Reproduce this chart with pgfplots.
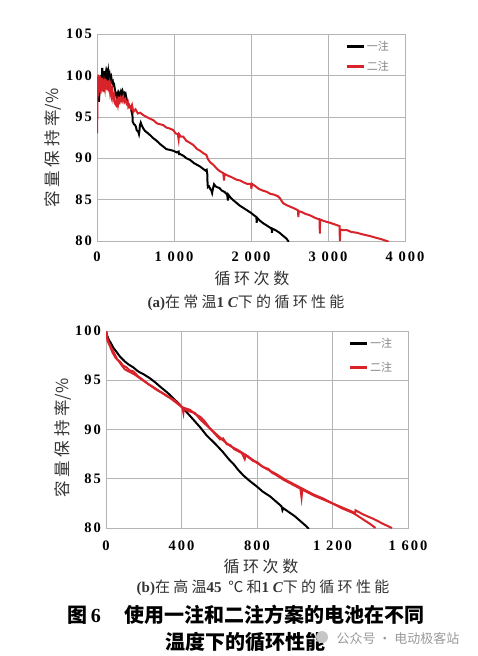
\documentclass[border=0pt]{standalone}
\usepackage{fontspec}
\usepackage{pgfplots}
\pgfplotsset{compat=1.18}
\setmainfont{Liberation Serif}
\newfontfamily\cjk{Noto Sans CJK SC}
\newfontfamily\cjks[LetterSpace=22]{Noto Sans CJK SC}
\newfontfamily\tickf[LetterSpace=14]{Liberation Serif}
\definecolor{myred}{HTML}{D8232A}
\definecolor{gridc}{HTML}{B4B4B4}
\definecolor{txtc}{HTML}{333333}
\pgfplotsset{
  common/.style={
    scale only axis,
    grid=major,
    major grid style={gridc, line width=0.6pt},
    axis line style={gridc, line width=0.6pt},
    tick style={draw=none},
    ticklabel style={font=\tickf\bfseries\fontsize{14.5}{14.5}\selectfont, text=black},
    yticklabel style={xshift=-1.5pt},
    legend cell align=left,
    legend image code/.code={\draw[#1, line width=2.6pt] (0pt,0pt) -- (17pt,0pt);},
    clip=true,
  }
}
\begin{document}
\begin{tikzpicture}[x=1pt,y=1pt]
\useasboundingbox (0,0) rectangle (478,-656);
% ---------- (a) ----------
\begin{axis}[common,
  at={(97pt,-241pt)}, anchor=south west,
  width=308pt, height=207pt,
  xmin=0, xmax=4000, ymin=80, ymax=105,
  xtick={0,1000,2000,3000,4000},
  xticklabels={0,1 000,2 000,3 000,4 000},
  ytick={80,85,90,95,100,105},
  yticklabels={80,85,90,95,100,105},
  xticklabel style={yshift=-7pt},
  legend style={at={(rel axis cs:0.955,0.975)}, anchor=north east, draw=none, fill=none,
     font=\cjk\fontsize{11}{12}\selectfont\color{gray}, row sep=5pt, inner sep=0pt, nodes={inner sep=2pt}},
]
\addplot[black, line width=2pt] coordinates {
(25,96.8)(30,97.6)(38,99.5)(45,98.3)(52,100.0)(60,99.0)(68,100.9)(74,100.2)(80,99.4)(88,100.5)(96,99.2)(104,99.6)(112,100.1)(120,99.3)(130,100.3)(140,99.8)(147,100.4)(155,99.7)(165,100.1)(175,99.5)(185,99.8)(195,99.2)(205,99.3)(212,98.8)(222,98.9)(234,98.2)(245,97.8)(255,97.3)(265,97.7)(275,97.3)(285,97.9)(299,97.6)(310,98.0)(320,97.6)(332,98.1)(342,97.8)(355,97.9)(365,97.3)(375,97.6)(394,96.7)(410,96.5)(429,96.2)(440,96.0)(450,95.6)(455,95.8)(460,95.4)(463,94.4)(470,94.3)(480,94.1)(494,94.0)(505,93.8)(515,93.4)(524,93.3)(535,93.2)(545,92.9)(550,93.2)(558,94.0)(568,94.3)(580,94.0)(600,93.6)(623,93.3)(650,93.1)(688,92.8)(720,92.5)(775,92.1)(820,91.7)(861,91.4)(900,91.1)(948,91.0)(990,90.9)(1035,90.7)(1060,90.8)(1065,90.5)(1080,90.5)(1121,90.3)(1160,90.0)(1208,89.8)(1260,89.4)(1300,89.2)(1338,89.0)(1380,88.7)(1410,88.5)(1424,88.6)(1432,88.1)(1436,86.9)(1440,86.5)(1455,86.6)(1470,86.3)(1485,86.1)(1495,85.8)(1505,86.3)(1520,86.85)(1540,86.6)(1560,86.5)(1590,86.4)(1620,86.1)(1660,85.9)(1690,85.6)(1700,84.9)(1705,85.6)(1730,85.3)(1760,85.0)(1800,84.7)(1850,84.3)(1900,84.0)(1950,83.7)(2000,83.4)(2040,83.1)(2070,82.9)(2074,82.2)(2078,82.8)(2110,82.5)(2150,82.2)(2200,81.9)(2250,81.6)(2268,81.5)(2272,81.0)(2276,81.5)(2320,81.3)(2370,81.0)(2420,80.6)(2460,80.3)(2490,79.9)
};
\addlegendentry{一注}
\addplot[myred, line width=2pt] coordinates {
(0,93.0)(3,94.5)(6,97.2)(10,99.8)(14,97.5)(18,100.1)(22,98.2)(28,99.6)(34,98.0)(40,99.9)(46,97.8)(52,99.3)(58,98.1)(64,99.7)(70,98.4)(78,99.5)(86,98.0)(94,99.0)(102,98.5)(110,99.6)(118,98.3)(126,99.2)(134,98.2)(142,99.4)(150,98.6)(160,99.0)(170,98.0)(180,98.6)(190,97.6)(200,98.1)(210,97.2)(222,97.6)(235,96.6)(248,96.4)(260,97.0)(272,96.4)(284,97.1)(296,96.8)(310,97.3)(325,96.9)(340,97.4)(355,96.8)(370,97.1)(385,96.6)(400,96.8)(407,96.2)(420,96.4)(440,96.0)(455,96.4)(472,95.6)(500,95.9)(530,95.4)(560,95.5)(602,95.2)(640,95.0)(680,94.8)(731,94.6)(780,94.2)(820,94.1)(861,94.0)(900,93.7)(940,93.6)(991,93.4)(1020,93.0)(1050,92.9)(1060,92.3)(1066,92.9)(1090,92.6)(1121,92.6)(1160,92.1)(1200,91.9)(1251,91.6)(1300,91.1)(1340,90.9)(1381,90.6)(1420,90.4)(1440,89.9)(1470,89.5)(1511,89.2)(1560,88.7)(1600,88.4)(1640,88.2)(1650,87.3)(1655,88.1)(1700,87.9)(1750,87.7)(1814,87.4)(1860,87.3)(1900,87.1)(1950,86.9)(2000,86.9)(2005,86.3)(2012,86.9)(2060,86.6)(2100,86.3)(2150,86.1)(2203,85.95)(2250,85.7)(2300,85.6)(2350,85.4)(2377,85.15)(2400,84.8)(2420,84.55)(2470,84.3)(2520,84.1)(2570,83.9)(2610,83.7)(2615,82.9)(2620,83.6)(2660,83.5)(2700,83.3)(2766,83.1)(2830,82.8)(2890,82.6)(2894,80.9)(2898,82.6)(2950,82.4)(3026,82.2)(3090,82.0)(3150,81.8)(3154,80.0)(3158,81.4)(3199,81.3)(3250,81.3)(3300,81.1)(3372,81.0)(3450,80.8)(3545,80.6)(3620,80.4)(3700,80.2)(3762,80.0)(3790,79.9)
};
\addlegendentry{二注}
\end{axis}
\node[rotate=90, font=\cjks\fontsize{16.5}{16.5}\selectfont, text=txtc] at (53,-148) {容量保持率\addfontfeature{LetterSpace=0}/\%};
\node[font=\cjks\fontsize{16}{16}\selectfont, text=txtc] at (252,-278) {循环次数};
\node[font=\cjks\fontsize{15}{15}\selectfont, text=txtc] at (246,-303) {{\rmfamily\bfseries (a)}在常温{\rmfamily\bfseries 1 \itshape C}下的循环性能};
% ---------- (b) ----------
\begin{axis}[common,
  at={(106pt,-528pt)}, anchor=south west,
  width=302pt, height=197pt,
  xmin=0, xmax=1600, ymin=80, ymax=100,
  xtick={0,400,800,1200,1600},
  xticklabels={0,400,800,1 200,1 600},
  ytick={80,85,90,95,100},
  yticklabels={80,85,90,95,100},
  xticklabel style={yshift=-9pt},
  legend style={at={(rel axis cs:0.955,0.975)}, anchor=north east, draw=none, fill=none,
     font=\cjk\fontsize{11}{12}\selectfont\color{gray}, row sep=9pt, inner sep=0pt, nodes={inner sep=2pt}},
]
\addplot[black, line width=2pt] coordinates {
(0,100)(5,99.6)(15,99.1)(25,98.8)(39,98.3)(55,97.9)(74,97.4)(100,96.9)(120,96.6)(145,96.3)(170,95.9)(200,95.6)(233,95.2)(260,94.8)(290,94.3)(322,93.8)(350,93.3)(392,92.5)(430,91.7)(463,91.0)(500,90.2)(533,89.4)(560,88.9)(586,88.4)(620,87.7)(650,87.0)(680,86.4)(700,85.9)(730,85.3)(760,84.8)(800,84.2)(830,83.7)(870,83.2)(900,82.7)(930,82.2)(935,81.8)(940,82.0)(970,81.6)(1000,81.2)(1030,80.7)(1060,80.2)(1075,79.9)
};
\addlegendentry{一注}
\addplot[myred, line width=2pt] coordinates {
(0,100)(5,99.4)(15,98.8)(25,98.4)(39,97.9)(50,97.5)(60,97.1)(74,96.9)(90,96.5)(110,96.3)(125,96.0)(145,95.9)(170,95.4)(198,95.0)(225,94.6)(251,94.3)(290,93.8)(322,93.4)(360,93.0)(392,92.5)(405,92.2)(410,91.7)(413,92.2)(445,92.0)(470,91.6)(498,91.3)(520,90.9)(551,90.1)(575,89.6)(604,89.0)(620,89.1)(640,88.5)(660,88.4)(680,88.0)(700,87.8)(720,87.6)(735,87.0)(740,87.4)(760,87.1)(780,86.8)(800,86.7)(830,86.2)(860,86.0)(880,85.6)(900,85.4)(940,84.9)(970,84.6)(999,84.3)(1030,84.0)(1036,83.1)(1040,83.9)(1070,83.6)(1100,83.3)(1150,82.9)(1199,82.5)(1250,82.1)(1299,81.7)(1320,81.5)(1322,81.8)(1360,81.4)(1420,80.9)(1470,80.4)(1515,80.0)
};
\addlegendentry{二注}
\addplot[myred, line width=2pt, forget plot] coordinates {
(0,100)(8,99.0)(20,98.5)(35,97.8)(50,97.3)(65,97.0)(80,96.6)(100,96.1)(120,95.9)(150,95.6)(180,95.2)(210,94.8)(240,94.4)(270,94.0)(300,93.7)(340,93.2)(380,92.6)(400,92.3)(430,91.9)(470,91.7)(500,91.0)(540,90.3)(580,89.6)(620,88.9)(660,88.3)(700,87.9)(750,87.3)(800,86.6)(850,86.0)(900,85.5)(950,84.9)(1000,84.4)(1050,83.9)(1100,83.4)(1150,83.0)(1200,82.5)(1250,82.0)(1300,81.6)(1320,81.4)(1360,80.9)(1400,80.4)(1428,80.0)
};
\end{axis}
\node[rotate=90, font=\cjks\fontsize{16.5}{16.5}\selectfont, text=txtc] at (63,-438) {容量保持率\addfontfeature{LetterSpace=0}/\%};
\node[font=\cjks\fontsize{16}{16}\selectfont, text=txtc] at (261,-566) {循环次数};
\node[font=\cjks\fontsize{15}{15}\selectfont, text=txtc] at (263,-588) {{\rmfamily\bfseries (b)}在高温{\rmfamily\bfseries 45} ℃和{\rmfamily\bfseries 1 \itshape C}下的循环性能};
% ---------- figure caption ----------
\node[anchor=west, font=\cjk\bfseries\fontsize{20}{20}\selectfont] at (64,-615) {图\,{\rmfamily 6}};
\node[anchor=west, font=\cjk\bfseries\fontsize{20}{20}\selectfont] at (121,-615) {使用一注和二注方案的电池在不同};
\node[anchor=west, font=\cjk\bfseries\fontsize{20}{20}\selectfont] at (162,-642) {温度下的循环性能};
\fill[gray!45] (322,-637) circle (6);
\node[anchor=west, font=\cjk\fontsize{13}{13}\selectfont, text=gray!80] at (333,-638) {公众号 · 电动极客站};
\end{tikzpicture}
\end{document}
